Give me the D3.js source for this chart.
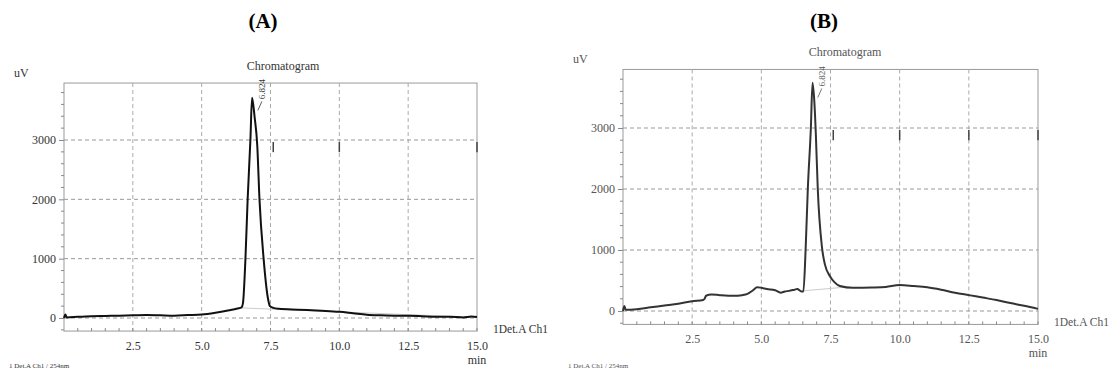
<!DOCTYPE html>
<html>
<head>
<meta charset="utf-8">
<script src="https://cdn.jsdelivr.net/npm/d3@7"></script>
<style>
  body { margin: 0; background: #fff; }
  svg { display: block; font-family: "Liberation Serif", "DejaVu Serif", serif; }
</style>
</head>
<body>
<svg id="chart" width="1111" height="371"></svg>
<script>
// data
const xTicks = [2.5, 5.0, 7.5, 10.0, 12.5, 15.0];
const yTicks = [0, 1000, 2000, 3000];
const peakRT = "6.824";
const marksA = [7.6, 10.0, 15.0];
const marksB = [7.6, 10.0, 12.5, 15.0];

const timeA = [0, 0.05, 0.1, 0.5, 1.0, 1.5, 2.0, 2.5, 3.0, 3.5, 4.0, 4.5, 5.0, 5.5, 6.0, 6.3, 6.45, 6.5,
  6.59, 6.67, 6.77, 6.83, 6.92, 7.02, 7.1, 7.25, 7.4, 7.48, 7.6, 7.8, 8.5, 9.0, 9.5, 10.0, 10.5, 11.0,
  11.5, 12.0, 12.5, 13.0, 13.5, 14.0, 14.5, 14.8, 15.0];
const signalA = [0, 60, 10, 20, 30, 35, 40, 45, 50, 45, 40, 50, 60, 90, 130, 160, 180, 250,
  1000, 2000, 3000, 3710, 3400, 2900, 2000, 1000, 350, 200, 170, 155, 140, 130, 120, 105, 80, 55,
  45, 40, 38, 30, 20, 20, 10, 25, 15];

const timeB = [0, 0.05, 0.1, 0.5, 1.0, 1.5, 2.0, 2.5, 2.9, 2.95, 3.0, 3.2, 3.5, 4.0, 4.3, 4.5, 4.7, 4.85,
  5.0, 5.2, 5.5, 5.7, 5.85, 6.0, 6.2, 6.3, 6.45, 6.52, 6.6, 6.68, 6.79, 6.85, 6.92, 6.97, 7.04, 7.19,
  7.3, 7.48, 7.65, 7.84, 8.3, 9.0, 9.5, 10.0, 10.5, 11.0, 11.5, 12.0, 12.5, 13.0, 13.5, 14.0, 14.5, 15.0];
const signalB = [0, 80, 20, 30, 60, 90, 120, 160, 180, 200, 250, 270, 260, 250, 260, 280, 340, 390,
  380, 360, 340, 300, 320, 330, 350, 360, 320, 320, 1000, 2000, 3000, 3740, 3400, 2900, 2000, 1050,
  760, 570, 470, 410, 380, 385, 395, 425, 410, 390, 350, 300, 260, 220, 180, 130, 85, 35];

// faint integration baselines
const baseTimeA = [6.45, 15.0];
const baseA = [170, 10];
const baseTimeB = [6.5, 8.0];
const baseB = [330, 390];

const svg = d3.select("#chart");

function drawPanel(o) {
  const x = d3.scaleLinear().domain([0, 15]).range([o.x0, o.x1]);
  const y = d3.scaleLinear().domain([0, 3000]).range([o.y0, o.y3000]);
  const yTop = y(3960), yBot = y(-220);
  const g = svg.append("g");
  const ink = o.ink;

  // frame
  g.append("rect").attr("x", x(0)).attr("y", yTop)
    .attr("width", x(15) - x(0)).attr("height", yBot - yTop)
    .attr("fill", "none").attr("stroke", "#999").attr("stroke-width", 1);

  // grid
  g.selectAll(".vg").data(xTicks.slice(0, -1)).join("line")
    .attr("x1", d => x(d)).attr("x2", d => x(d)).attr("y1", yTop).attr("y2", yBot)
    .attr("stroke", "#aaa").attr("stroke-dasharray", "4,3");
  g.selectAll(".hg").data(yTicks).join("line")
    .attr("x1", x(0)).attr("x2", x(15)).attr("y1", d => y(d)).attr("y2", d => y(d))
    .attr("stroke", "#999").attr("stroke-dasharray", "4,3");

  // y axis
  const yAxis = d3.axisLeft(y).tickValues(yTicks).tickSize(5).tickFormat(d3.format("d"));
  const ya = g.append("g").attr("transform", `translate(${x(0)},0)`).call(yAxis);
  ya.select(".domain").remove();
  const yMinor = d3.range(-200, 3960, 200).filter(v => v % 1000 !== 0);
  g.selectAll(".ym").data(yMinor).join("line")
    .attr("x1", x(0) - 3).attr("x2", x(0)).attr("y1", d => y(d)).attr("y2", d => y(d))
    .attr("stroke", "#888");

  // x axis
  const xAxis = d3.axisBottom(x).tickValues(xTicks).tickSize(0).tickPadding(10).tickFormat(d3.format(".1f"));
  const xa = g.append("g").attr("transform", `translate(0,${yBot})`).call(xAxis);
  xa.select(".domain").remove();
  g.selectAll(".xm").data(d3.range(0.5, 15.01, 0.5)).join("line")
    .attr("x1", d => x(d)).attr("x2", d => x(d)).attr("y1", yBot).attr("y2", yBot - 3)
    .attr("stroke", "#888");
  [ya, xa].forEach(a => a.attr("font-family", null).selectAll("text")
    .attr("font-family", "Liberation Serif").attr("font-size", 12).attr("fill", ink));
  ya.selectAll("line").attr("stroke", "#888");

  // integration marks
  g.selectAll(".mk").data(o.marks).join("line")
    .attr("x1", d => x(d)).attr("x2", d => x(d)).attr("y1", y(3000) + 2).attr("y2", y(2930) + 8)
    .attr("stroke", "#444").attr("stroke-width", 1.5);

  // faint baseline
  const line = d3.line().x(d => x(d[0])).y(d => y(d[1]));
  g.append("path").datum(d3.zip(o.bt, o.bv)).attr("d", line)
    .attr("fill", "none").attr("stroke", "#ccc").attr("stroke-width", 1);

  // trace
  g.append("path").datum(d3.zip(o.t, o.v)).attr("d", line.curve(d3.curveMonotoneX))
    .attr("fill", "none").attr("stroke", o.traceColor).attr("stroke-width", 2)
    .attr("stroke-linejoin", "round");

  // peak label
  const px = x(6.824) + 9, py = y(3550);
  g.append("line").attr("x1", px - 3).attr("y1", py + 3).attr("x2", px + 1).attr("y2", py - 6)
    .attr("stroke", ink).attr("stroke-width", 0.8);
  g.append("text").attr("transform", `translate(${px + 4},${py - 8}) rotate(-90)`)
    .attr("font-size", 9).attr("fill", ink).text(peakRT);

  // texts
  g.append("text").attr("x", o.x0 - 50).attr("y", yTop - 6).attr("font-size", 12).attr("fill", ink).text("uV");
  g.append("text").attr("x", o.titleX).attr("y", yTop - 13).attr("text-anchor", "middle")
    .attr("font-size", 12).attr("fill", ink).text("Chromatogram");
  g.append("text").attr("x", x(15) + 16).attr("y", yBot + 2).attr("font-size", 11.5).attr("fill", ink).text("1Det.A Ch1");
  g.append("text").attr("x", x(15)).attr("y", yBot + 33).attr("text-anchor", "middle")
    .attr("font-size", 12).attr("fill", ink).text("min");
  g.append("text").attr("x", o.x0 - 55).attr("y", 368).attr("font-size", 7).attr("fill", ink).text("1  Det.A Ch1 / 254nm");
  g.append("text").attr("x", o.labelX).attr("y", 28).attr("text-anchor", "middle")
    .attr("font-size", 21).attr("font-weight", "bold").attr("fill", "#000").text(o.label);
}

drawPanel({ x0: 64, x1: 477, y0: 318, y3000: 140, t: timeA, v: signalA, bt: baseTimeA, bv: baseA,
  marks: marksA, ink: "#333", traceColor: "#111", titleX: 283, labelX: 263, label: "(A)" });
drawPanel({ x0: 623, x1: 1038, y0: 311, y3000: 128, t: timeB, v: signalB, bt: baseTimeB, bv: baseB,
  marks: marksB, ink: "#555", traceColor: "#333", titleX: 845, labelX: 824, label: "(B)" });
</script>
</body>
</html>
